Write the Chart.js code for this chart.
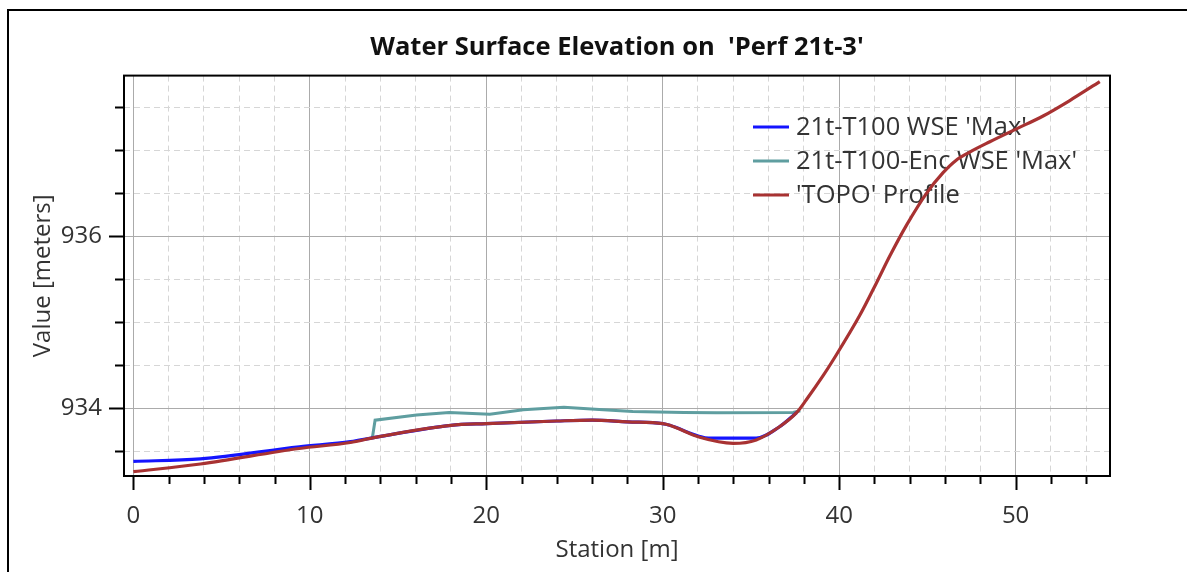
<!DOCTYPE html>
<html>
<head>
<meta charset="utf-8">
<script src="https://cdn.jsdelivr.net/npm/chart.js@4.4.1/dist/chart.umd.min.js"></script>
<style>
  html, body { margin: 0; padding: 0; background: #fff; overflow: hidden; }
  #wrap { position: relative; width: 1187px; height: 572px; }
  #frame { position: absolute; left: 7px; top: 9px; width: 1300px; height: 700px; border: 2px solid #000; }
  #chart { position: absolute; left: 0; top: 0; }
</style>
</head>
<body>
<div id="wrap">
  <div id="frame"></div>
  <canvas id="chart" width="1187" height="572"></canvas>
</div>
<script>
// Station / elevation
const stationTopo = [0, 3.8, 9.4, 12.3, 13.7, 18, 20, 24, 26, 28, 30, 30.4, 32.1, 34, 35.3, 36.6, 37.6, 38.15, 39.1, 39.66, 41.17, 42.12, 42.87, 43.82, 44.95, 45.89, 46.6, 47.4, 48.54, 50.05, 51.56, 53.07, 54.77];
const elevTopo = [933.26, 933.35, 933.53, 933.60, 933.66, 933.80, 933.82, 933.85, 933.86, 933.84, 933.82, 933.80, 933.66, 933.59, 933.63, 933.78, 933.95, 934.10, 934.38, 934.56, 935.08, 935.46, 935.77, 936.13, 936.50, 936.74, 936.88, 936.98, 937.10, 937.25, 937.40, 937.58, 937.80];

const stationWse = [0, 3.8, 9.4, 12.3, 13.7, 18, 20, 24, 26, 28, 30, 30.4, 32.1, 32.6, 35.3, 36.6, 37.6];
const elevWse = [933.38, 933.41, 933.55, 933.61, 933.66, 933.80, 933.82, 933.85, 933.86, 933.84, 933.82, 933.80, 933.67, 933.65, 933.65, 933.78, 933.95];

const stationEnc = [13.55, 13.7, 16.05, 17.9, 20.2, 22.1, 24.4, 26.4, 28.3, 31.2, 33.05, 37.4, 37.8];
const elevEnc = [933.66, 933.86, 933.92, 933.95, 933.93, 933.98, 934.01, 933.985, 933.96, 933.95, 933.945, 933.95, 933.97];

const xTicks = [0, 2, 4, 6, 8, 10, 12, 14, 16, 18, 20, 22, 24, 26, 28, 30, 32, 34, 36, 38, 40, 42, 44, 46, 48, 50, 52, 54];
const xLabelTicks = [0, 10, 20, 30, 40, 50];
const yTicks = [933.5, 934, 934.5, 935, 935.5, 936, 936.5, 937, 937.5];
const yLabelTicks = [934, 936];

const legendNames = ["21t-T100 WSE 'Max'", "21t-T100-Enc WSE 'Max'", "'TOPO' Profile"];
const colWse = '#1414ff', colEnc = '#5f9ea0', colTopo = '#a83232';

const FONT = "'Open Sans', 'Noto Sans', sans-serif";
const textCol = '#333';

function pts(xs, ys) {
    return xs.map((x, i) => ({ x: x, y: ys[i] }));
}

const isMajor = (list, v) => list.some(m => Math.abs(m - v) < 1e-6);

// ticks of two lengths, legend inside plot, plot frame
const decor = {
    id: 'decor',
    beforeDatasetsDraw(chart) {
        const ctx = chart.ctx;
        ctx.save();
        ctx.font = '25.5px ' + FONT;
        ctx.textBaseline = 'middle';
        const items = [[legendNames[0], colWse], [legendNames[1], colEnc], [legendNames[2], colTopo]];
        items.forEach((it, i) => {
            const y = 127 + i * 34;
            ctx.strokeStyle = it[1];
            ctx.lineWidth = 3;
            ctx.beginPath();
            ctx.moveTo(753, y);
            ctx.lineTo(789, y);
            ctx.stroke();
            ctx.fillStyle = textCol;
            ctx.fillText(it[0], 796, y + 1);
        });
        ctx.restore();
    },
    afterDraw(chart) {
        const ctx = chart.ctx;
        const a = chart.chartArea;
        const xs = chart.scales.x, ys = chart.scales.y;
        ctx.save();
        ctx.strokeStyle = '#000';
        ctx.lineWidth = 2;
        ctx.strokeRect(a.left, a.top, a.right - a.left, a.bottom - a.top);
        ctx.beginPath();
        xTicks.forEach(v => {
            const px = Math.round(xs.getPixelForValue(v)) + 0.5;
            const len = isMajor(xLabelTicks, v) ? 14 : 8;
            ctx.moveTo(px, a.bottom);
            ctx.lineTo(px, a.bottom + len);
        });
        yTicks.forEach(v => {
            const py = Math.round(ys.getPixelForValue(v)) + 0.5;
            const len = isMajor(yLabelTicks, v) ? 15 : 9;
            ctx.moveTo(a.left, py);
            ctx.lineTo(a.left - len, py);
        });
        ctx.stroke();
        ctx.restore();
    }
};

const gridColor = (list) => (c) => (c.tick && isMajor(list, c.tick.value)) ? '#ababab' : '#d6d6d6';
const gridDash = (list) => (c) => (c.tick && !isMajor(list, c.tick.value)) ? [6, 4] : [];

new Chart(document.getElementById('chart'), {
    type: 'line',
    data: {
        datasets: [
            { label: legendNames[2], data: pts(stationTopo, elevTopo), borderColor: colTopo, borderWidth: 3.2, pointRadius: 0, cubicInterpolationMode: 'monotone' },
            { label: legendNames[0], data: pts(stationWse, elevWse), borderColor: colWse, borderWidth: 3.2, pointRadius: 0, cubicInterpolationMode: 'monotone' },
            { label: legendNames[1], data: pts(stationEnc, elevEnc), borderColor: colEnc, borderWidth: 3, pointRadius: 0, tension: 0 }
        ]
    },
    options: {
        responsive: false,
        animation: false,
        events: [],
        layout: { padding: { left: 0, right: 77, top: 0, bottom: 0 } },
        plugins: {
            legend: { display: false },
            tooltip: { enabled: false },
            title: {
                display: true,
                fullSize: false,
                text: "Water Surface Elevation on  'Perf 21t-3'",
                color: '#111',
                font: { family: FONT, size: 25.5, weight: 'bold', lineHeight: 1.2 },
                padding: { top: 32, bottom: 13 }
            }
        },
        scales: {
            x: {
                type: 'linear',
                min: -0.53,
                max: 55.35,
                afterBuildTicks: s => { s.ticks = xTicks.map(v => ({ value: v })); },
                afterFit: s => { s.height = 96; },
                grid: { color: gridColor(xLabelTicks), lineWidth: 1, tickLength: 14, tickColor: 'rgba(0,0,0,0)' },
                border: { display: false, dash: gridDash(xLabelTicks) },
                ticks: {
                    autoSkip: false, maxRotation: 0, padding: 12, color: textCol,
                    font: { family: FONT, size: 24, lineHeight: 1.2 },
                    callback: v => isMajor(xLabelTicks, v) ? String(v) : ''
                },
                title: { display: true, text: 'Station [m]', color: textCol, font: { family: FONT, size: 24, lineHeight: 1.2 }, padding: { top: 0, bottom: 7 } }
            },
            y: {
                type: 'linear',
                min: 933.21,
                max: 937.87,
                afterBuildTicks: s => { s.ticks = yTicks.map(v => ({ value: v })); },
                afterFit: s => { s.width = 124; },
                grid: { color: gridColor(yLabelTicks), lineWidth: 1, tickLength: 15, tickColor: 'rgba(0,0,0,0)' },
                border: { display: false, dash: gridDash(yLabelTicks) },
                ticks: {
                    autoSkip: false, padding: 7, color: textCol,
                    font: { family: FONT, size: 24, lineHeight: 1.2 },
                    callback: v => isMajor(yLabelTicks, v) ? String(v) : ''
                },
                title: { display: true, text: 'Value [meters]', color: textCol, font: { family: FONT, size: 24, lineHeight: 1.2 }, padding: { top: 29, bottom: 0 } }
            }
        }
    },
    plugins: [decor]
});
</script>
</body>
</html>
